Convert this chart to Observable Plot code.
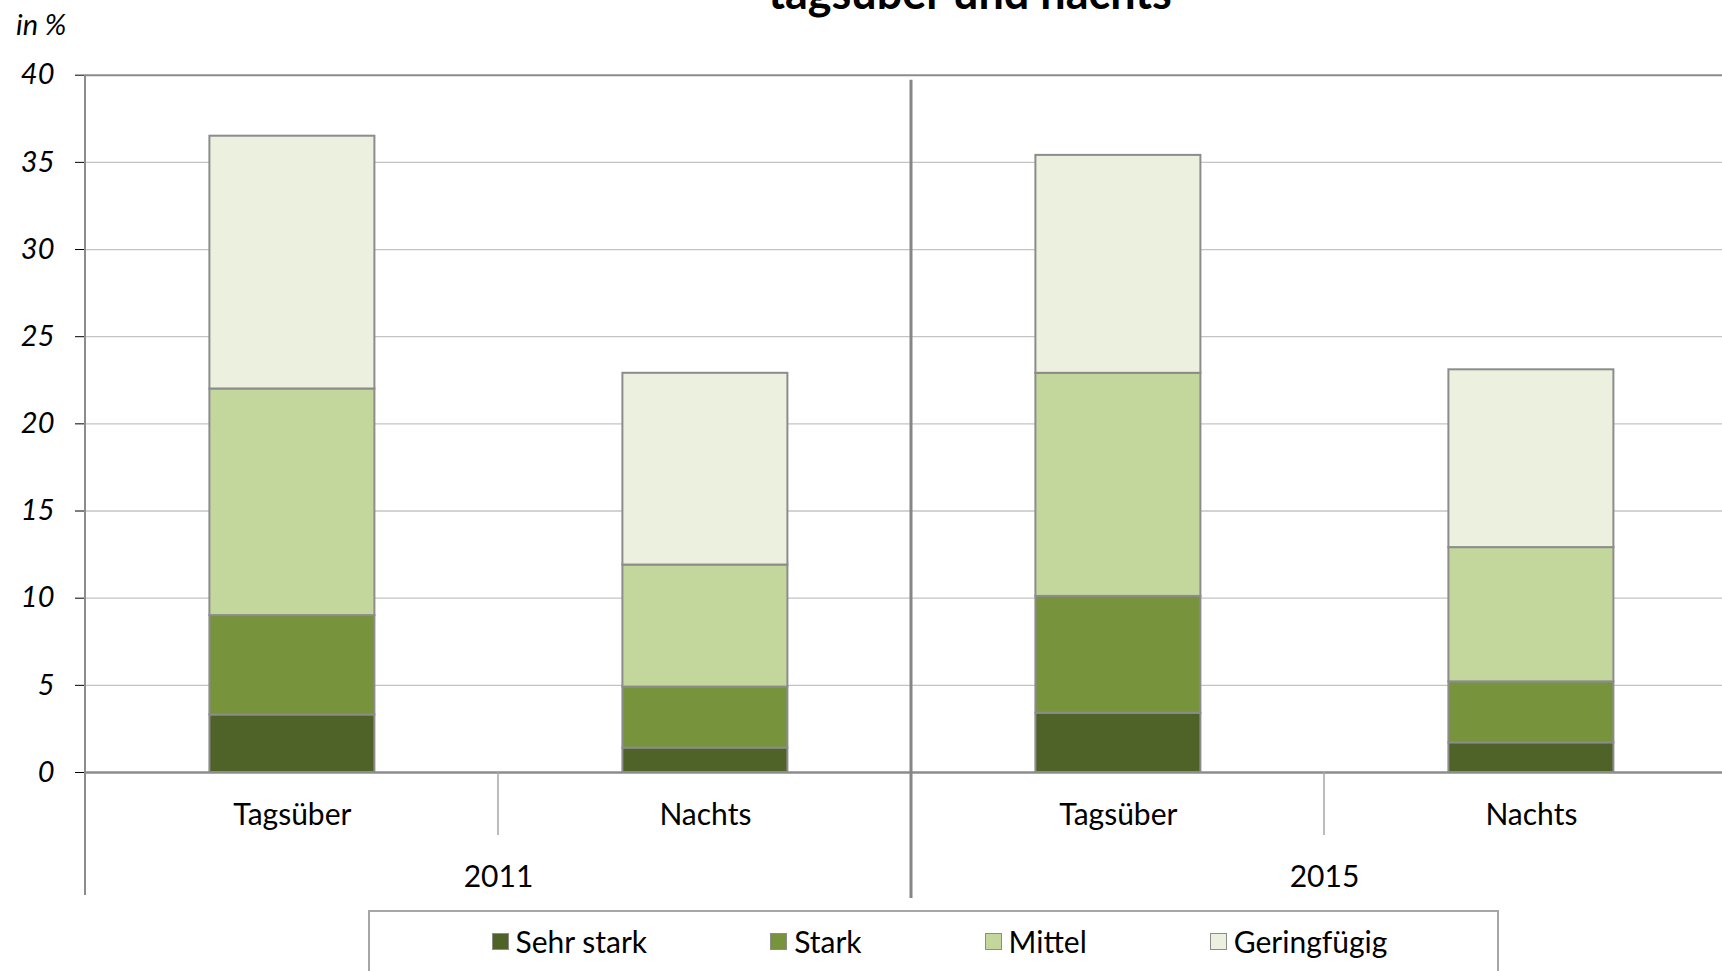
<!DOCTYPE html>
<html>
<head>
<meta charset="utf-8">
<script src="https://cdn.jsdelivr.net/npm/d3@7"></script>
<script src="https://cdn.jsdelivr.net/npm/@observablehq/plot@0.6"></script>
<style>
  html, body { margin: 0; padding: 0; background: #fff; overflow: hidden; }
  #page { position: relative; width: 1722px; height: 971px; overflow: hidden; font-family: Lato, "Open Sans", sans-serif; color: #000; }
  #title { position: absolute; z-index: 2; top: -35px; left: 470px; width: 1000px; text-align: center; font-weight: 700; font-size: 45px; line-height: 1.2; white-space: nowrap; }
  #unit { position: absolute; z-index: 2; left: 16px; top: 7px; font-style: italic; font-size: 29px; line-height: 1.2; }
  #chart { position: absolute; z-index: 1; left: 0; top: 0; width: 1760px; }
  #chart svg { max-width: none !important; display: block; }
  #legend { position: absolute; z-index: 2; left: 368px; top: 910px; width: 1131px; height: 100px; box-sizing: border-box;
            border: 2px solid #a6a6a6; background: #fff; display: flex; justify-content: center; align-items: flex-start;
            gap: 123px; padding: 11px 0 0 12px; font-size: 30px; }
  .item { display: flex; align-items: center; white-space: nowrap; }
  .swatch { width: 17px; height: 17px; border: 1px solid #8c8c8c; margin-right: 7px; box-sizing: border-box; }
  #chart svg [aria-label="y-axis tick label"] { font-style: italic; }
  #chart svg [aria-label="y-axis tick"] { stroke: #8c8c8c; }
</style>
</head>
<body>
<div id="page">
  <div id="title">tagsüber und nachts</div>
  <div id="unit">in %</div>
  <div id="chart"></div>
  <div id="legend"></div>
</div>
<script>
// Categories
const years = ["2011", "2015"];
const periods = ["Tagsüber", "Nachts"];
const levels = ["Sehr stark", "Stark", "Mittel", "Geringfügig"];
const levelColors = ["#4f6228", "#77933c", "#c3d69b", "#ebf1de"];

// Shares in %, per level, in the order:
// 2011 Tagsüber, 2011 Nachts, 2015 Tagsüber, 2015 Nachts
const sehrStark    = [3.3, 1.4, 3.4, 1.7];
const stark        = [5.7, 3.5, 6.7, 3.5];
const mittel       = [13.0, 7.0, 12.8, 7.7];
const geringfuegig = [14.5, 11.0, 12.5, 10.2];

// Y-axis ticks
const yTicks = [0, 5, 10, 15, 20, 25, 30, 35, 40];

// Long table for the stacked bars
const series = [sehrStark, stark, mittel, geringfuegig];
const groups = years.flatMap(year => periods.map(period => ({year, period})));
const rows = [];
groups.forEach((g, i) => {
  levels.forEach((level, j) => rows.push({year: g.year, period: g.period, level, value: series[j][i]}));
});

const width = 1760, height = 905;
const marginLeft = 84.6, marginTop = 74.7, marginBottom = 133;
const facetWidth = 826.9;
const marginRight = width - marginLeft - 2 * facetWidth;

const plot = Plot.plot({
  width, height, marginLeft, marginRight, marginTop, marginBottom,
  style: {fontFamily: "Lato, 'Open Sans', sans-serif", background: "white", color: "#000", maxWidth: "none"},
  fx: {domain: years, padding: 0, axis: null, label: null},
  x: {domain: periods, paddingInner: 0.6, paddingOuter: 0.3, axis: null, label: null},
  y: {domain: [0, 40], axis: null, label: null},
  color: {domain: levels, range: levelColors},
  marks: [
    Plot.ruleY(yTicks.filter(t => t > 0 && t < 40), {stroke: "#c4c4c4", strokeWidth: 1.3}),
    Plot.ruleY([40], {stroke: "#8c8c8c", strokeWidth: 2}),
    Plot.barY(rows, Plot.stackY({
      fx: "year", x: "period", y: "value", fill: "level",
      stroke: "#8c8c8c", strokeWidth: 2
    })),
    Plot.ruleY([0], {stroke: "#8c8c8c", strokeWidth: 2.5}),
    Plot.axisY({ticks: yTicks, tickSize: 10, tickPadding: 21, fontSize: 29, label: null}),
    Plot.axisX({tickSize: 0, tickPadding: 31, fontSize: 30, label: null}),
    Plot.axisFx({anchor: "bottom", tickSize: 0, tickPadding: 93, fontSize: 30, label: null})
  ]
});

// Frame lines of the grouped category axis, placed from the plot's scales
const fx = plot.scale("fx");
const y = plot.scale("y");
const y0 = y.apply(0), y40 = y.apply(40);
const svg = d3.select(plot);
const deco = svg.append("g").attr("fill", "none");
// left value axis, running down through the category rows
deco.append("line")
  .attr("x1", fx.apply(years[0])).attr("x2", fx.apply(years[0]))
  .attr("y1", y40).attr("y2", y0 + 123)
  .attr("stroke", "#8c8c8c").attr("stroke-width", 2);
// divider between the year groups
years.slice(1).forEach(yr => {
  deco.append("line")
    .attr("x1", fx.apply(yr)).attr("x2", fx.apply(yr))
    .attr("y1", y40 + 5).attr("y2", y0 + 126)
    .attr("stroke", "#868686").attr("stroke-width", 3);
});
// separators between Tagsüber and Nachts inside each year
years.forEach(yr => {
  const xm = fx.apply(yr) + fx.bandwidth / 2;
  deco.append("line")
    .attr("x1", xm).attr("x2", xm)
    .attr("y1", y0).attr("y2", y0 + 63)
    .attr("stroke", "#a6a6a6").attr("stroke-width", 1.5);
});

document.getElementById("chart").appendChild(plot);

// Legend
const legend = d3.select("#legend");
levels.forEach((level, i) => {
  const item = legend.append("div").attr("class", "item");
  item.append("div").attr("class", "swatch").style("background", levelColors[i]);
  item.append("span").text(level);
});
</script>
</body>
</html>
